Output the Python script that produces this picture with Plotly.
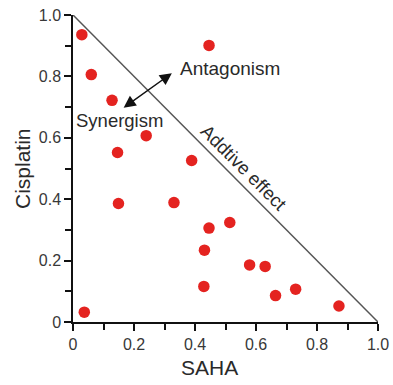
import plotly.graph_objects as go

saha = [0.029, 0.060, 0.128, 0.446, 0.146, 0.240, 0.389, 0.149, 0.331, 0.446,
        0.514, 0.431, 0.579, 0.630, 0.429, 0.664, 0.730, 0.872, 0.037]
cisplatin = [0.936, 0.806, 0.722, 0.901, 0.552, 0.607, 0.526, 0.386, 0.389, 0.306,
             0.324, 0.234, 0.186, 0.181, 0.116, 0.086, 0.107, 0.052, 0.032]
additive_x = [0, 1]
additive_y = [1, 0]
tick_vals = [0, 0.2, 0.4, 0.6, 0.8, 1.0]
tick_text = ["0", "0.2", "0.4", "0.6", "0.8", "1.0"]

FONT = "Liberation Sans, Arial, sans-serif"
TXT = "#2a2a2a"
TICK = "#383838"

fig = go.Figure()
fig.add_trace(go.Scatter(x=additive_x, y=additive_y, mode="lines",
                         line=dict(color="#555555", width=1.5),
                         showlegend=False, hoverinfo="skip", cliponaxis=False))
fig.add_trace(go.Scatter(x=saha, y=cisplatin, mode="markers",
                         marker=dict(color="#e42320", size=11.5, line=dict(width=0)),
                         showlegend=False, cliponaxis=False))

axis_common = dict(
    range=[0, 1], tickvals=tick_vals, ticktext=tick_text, automargin=False,
    ticklabeloverflow="allow",
    showline=True, linecolor="#111111", linewidth=1.5,
    ticks="outside", ticklen=7, tickwidth=1.5, tickcolor="#111111",
    showgrid=False, zeroline=False,
    tickfont=dict(family=FONT, size=16, color=TICK),
    minor=dict(dtick=0.1, tick0=0, ticks="outside", ticklen=6, tickwidth=1.5,
               tickcolor="#111111", showgrid=False),
)
fig.update_xaxes(**axis_common)
fig.update_yaxes(**axis_common)

fig.add_annotation(x=0.166, y=0.698, ax=0.329, ay=0.814, xref="x", yref="y",
                   axref="x", ayref="y", showarrow=True, arrowhead=2, startarrowhead=2,
                   arrowside="end+start", arrowsize=1.6, startarrowsize=1.6,
                   arrowwidth=1.5, arrowcolor="#111111", text="")
fig.add_annotation(x=0.515, y=0.825, xref="x", yref="y", text="Antagonism", showarrow=False,
                   font=dict(family=FONT, size=19, color=TXT))
fig.add_annotation(x=0.152, y=0.657, xref="x", yref="y", text="Synergism", showarrow=False,
                   font=dict(family=FONT, size=18.5, color=TXT))
fig.add_annotation(x=0.560, y=0.504, xref="x", yref="y", text="Addtive effect", showarrow=False,
                   textangle=45, font=dict(family=FONT, size=18.5, color=TXT))
# axis titles
fig.add_annotation(x=0.446, y=0, xref="x", yref="paper", yanchor="middle", yshift=-45,
                   text="SAHA", showarrow=False, font=dict(family=FONT, size=21, color=TXT))
fig.add_annotation(x=0, y=0.5, xref="paper", yref="paper", xanchor="center", xshift=-50.5,
                   text="Cisplatin", textangle=-90, showarrow=False,
                   font=dict(family=FONT, size=21, color=TXT))

fig.update_layout(width=393, height=385, margin=dict(l=73, r=15, t=15, b=63, autoexpand=False),
                  plot_bgcolor="white", paper_bgcolor="white")
fig.write_html("out.html", config={"displayModeBar": False},
               post_script="document.body.style.margin='0';document.body.style.overflow='hidden';")
